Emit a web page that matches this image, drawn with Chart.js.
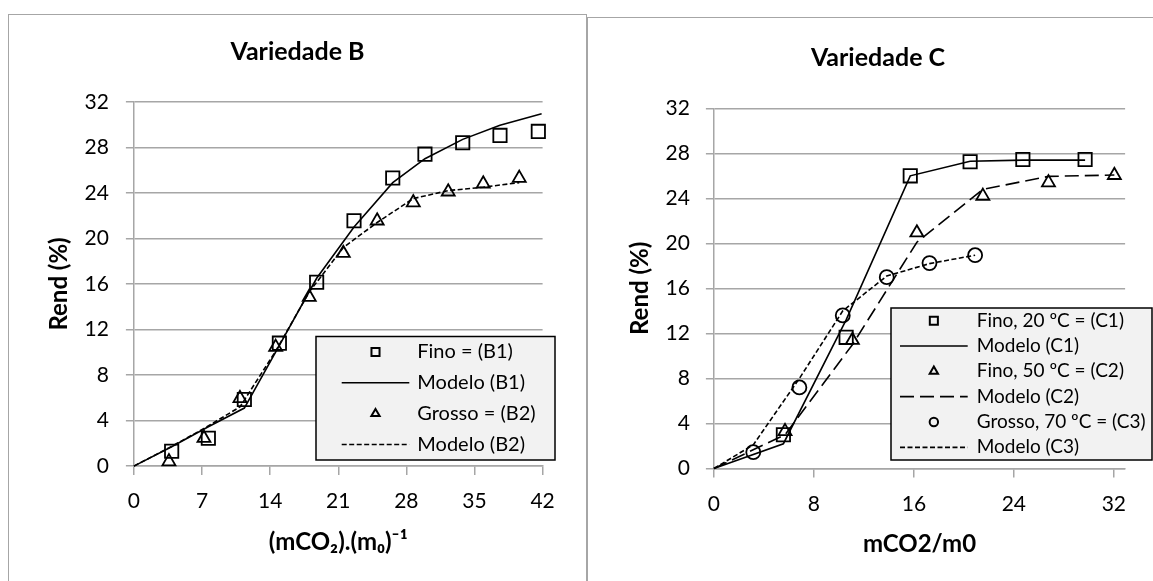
<!DOCTYPE html>
<html lang="pt">
<head>
<meta charset="utf-8">
<title>Rendimento - Variedades B e C</title>
<script src="https://cdn.jsdelivr.net/npm/chart.js@4.4.1/dist/chart.umd.min.js"></script>
<style>
  html, body { margin: 0; padding: 0; background: #fff; overflow: hidden; }
  body { width: 1153px; height: 581px; position: relative; }
  .moldura { position: absolute; box-sizing: border-box; border: 1px solid #a6a6a6; }
  canvas { position: absolute; }
</style>
</head>
<body>
<div class="moldura" style="left:8px;top:14px;width:579px;height:600px"></div>
<div class="moldura" style="left:587px;top:17px;width:600px;height:600px"></div>
<canvas id="grafB" width="579" height="567" style="left:8px;top:14px"></canvas>
<canvas id="grafC" width="582" height="563" style="left:587px;top:18px"></canvas>
<script>
// Variedade B
const ticksXB = [0, 7, 14, 21, 28, 35, 42];
const ticksYB = [0, 4, 8, 12, 16, 20, 24, 28, 32];
const finoB1X = [3.88, 7.65, 11.35, 14.95, 18.78, 22.62, 26.6, 29.91, 33.79, 37.62, 41.56];
const finoB1Y = [1.3, 2.45, 5.85, 10.8, 16.15, 21.55, 25.3, 27.4, 28.4, 29.05, 29.4];
const modeloB1X = [0, 3.88, 7.65, 11.35, 14.95, 18.78, 22.62, 26.6, 29.91, 33.79, 37.62, 41.9];
const modeloB1Y = [0, 1.7, 3.45, 5.1, 10.6, 16.5, 21.0, 24.9, 27.0, 28.7, 29.95, 30.95];
const grossoB2X = [3.6, 7.2, 10.9, 14.57, 18.02, 21.52, 25.0, 28.71, 32.3, 35.9, 39.6];
const grossoB2Y = [0.4, 2.45, 5.95, 10.45, 14.85, 18.7, 21.55, 23.15, 24.1, 24.8, 25.3];
const modeloB2X = [0, 3.6, 7.2, 10.9, 14.57, 18.02, 21.52, 25.0, 28.71, 32.3, 35.9, 39.6];
const modeloB2Y = [0, 1.6, 3.3, 5.2, 10.1, 15.3, 19.2, 21.4, 23.5, 24.2, 24.5, 24.9];

// Variedade C
const ticksXC = [0, 8, 16, 24, 32];
const ticksYC = [0, 4, 8, 12, 16, 20, 24, 28, 32];
const finoC1X = [5.56, 10.58, 15.71, 20.5, 24.72, 29.7];
const finoC1Y = [3.0, 11.65, 26.0, 27.25, 27.45, 27.45];
const modeloC1X = [0, 5.56, 10.58, 15.71, 20.5, 24.72, 29.7];
const modeloC1Y = [0, 2.2, 13.2, 26.0, 27.3, 27.4, 27.4];
const finoC2X = [5.69, 11.08, 16.24, 21.52, 26.77, 32.04];
const finoC2Y = [3.3, 11.4, 20.95, 24.2, 25.4, 26.05];
const modeloC2X = [0, 5.69, 11.08, 16.24, 21.52, 26.77, 32.04];
const modeloC2Y = [0, 3.0, 11.0, 20.1, 24.8, 25.95, 26.07];
const grossoC3X = [3.15, 6.84, 10.31, 13.83, 17.25, 20.9];
const grossoC3Y = [1.45, 7.2, 13.6, 17.0, 18.25, 18.95];
const modeloC3X = [0, 3.15, 6.84, 10.31, 13.83, 17.25, 20.9];
const modeloC3Y = [0, 2.1, 8.0, 14.0, 17.1, 18.2, 18.95];

const corGrade = '#a6a6a6';
const tracoCurto = [5, 2.5];
const tracoLongo = [14, 6];

Chart.defaults.font.family = 'Lato, "Open Sans", sans-serif';
Chart.defaults.color = '#000';

const pontos = (xs, ys) => xs.map((x, i) => ({ x, y: ys[i] }));

const serieMarcador = (label, xs, ys, estilo, raio) => ({
    label,
    data: pontos(xs, ys),
    showLine: false,
    pointStyle: estilo,
    pointRadius: raio,
    pointHoverRadius: raio,
    pointBorderColor: '#000',
    pointBackgroundColor: 'rgba(0,0,0,0)',
    pointBorderWidth: 1.8,
    clip: false
});

const serieModelo = (label, xs, ys, tracejado) => ({
    label,
    data: pontos(xs, ys),
    showLine: true,
    borderColor: '#000',
    borderWidth: 1.6,
    borderDash: tracejado,
    pointRadius: 0,
    pointHoverRadius: 0,
    tension: 0,
    fill: false,
    clip: false
});

// Legenda em caixa cinza dentro da área do gráfico
const legendaCaixa = {
    id: 'legendaCaixa',
    afterDraw(chart, args, opts) {
        const ctx = chart.ctx;
        const sets = chart.data.datasets;
        const alturaLinha = opts.h / sets.length;
        const xMarcador = (opts.linhaX0 + opts.linhaX1) / 2;

        ctx.save();
        ctx.fillStyle = '#f2f2f2';
        ctx.fillRect(opts.x, opts.y, opts.w, opts.h);
        ctx.strokeStyle = '#000';
        ctx.lineWidth = 1.5;
        ctx.strokeRect(opts.x, opts.y, opts.w, opts.h);

        ctx.font = `${opts.tamanhoFonte}px Lato, "Open Sans", sans-serif`;
        ctx.textBaseline = 'middle';
        ctx.textAlign = 'left';

        sets.forEach((ds, i) => {
            const cy = opts.y + alturaLinha * (i + 0.5);
            ctx.strokeStyle = '#000';
            if (ds.showLine) {
                ctx.lineWidth = 1.6;
                ctx.setLineDash(ds.borderDash || []);
                ctx.beginPath();
                ctx.moveTo(opts.linhaX0, cy);
                ctx.lineTo(opts.linhaX1, cy);
                ctx.stroke();
                ctx.setLineDash([]);
            } else {
                ctx.fillStyle = 'rgba(0,0,0,0)';
                ctx.lineWidth = 2;
                Chart.helpers.drawPoint(ctx, {
                    pointStyle: ds.pointStyle,
                    radius: opts.raios[ds.pointStyle],
                    rotation: 0,
                    borderWidth: 2
                }, xMarcador, cy);
            }
            ctx.fillStyle = '#000';
            ctx.fillText(ds.label, opts.textoX, cy);
        });
        ctx.restore();
    }
};

const fixarTicks = (valores) => (scale) => {
    scale.ticks = valores.map(v => ({ value: v }));
};

const criarGrafico = (canvasId, p) => {
    return new Chart(document.getElementById(canvasId), {
        type: 'scatter',
        data: { datasets: p.series },
        plugins: [legendaCaixa],
        options: {
            responsive: false,
            animation: false,
            events: [],
            layout: { padding: 0 },
            plugins: {
                legend: { display: false },
                tooltip: { enabled: false },
                title: {
                    display: true,
                    text: p.titulo,
                    font: { size: 25, weight: 'bold', lineHeight: 1.2 },
                    padding: { top: p.padTitulo[0], bottom: p.padTitulo[1] }
                },
                legendaCaixa: p.legenda
            },
            scales: {
                x: {
                    type: 'linear',
                    min: 0,
                    max: p.xMax,
                    afterBuildTicks: fixarTicks(p.ticksX),
                    afterFit: s => { s.height = p.alturaX; },
                    grid: { drawOnChartArea: false, drawTicks: true, tickLength: 9, color: corGrade, lineWidth: 1.5 },
                    border: { color: corGrade, width: 1.5 },
                    ticks: { padding: p.padTickX, font: { size: 21 }, maxRotation: 0, autoSkip: false },
                    title: {
                        display: true,
                        text: p.tituloX,
                        font: { size: 24, weight: 'bold', lineHeight: 1.2 },
                        padding: { top: 0, bottom: p.padTituloX }
                    }
                },
                y: {
                    type: 'linear',
                    min: 0,
                    max: 32,
                    afterBuildTicks: fixarTicks(p.ticksY),
                    afterFit: s => { s.width = p.larguraY; },
                    grid: { drawTicks: true, tickLength: 8, color: corGrade, lineWidth: 1.5 },
                    border: { color: corGrade, width: 1.5 },
                    ticks: { padding: p.padTickY, font: { size: 21 } },
                    title: {
                        display: true,
                        text: 'Rend (%)',
                        font: { size: 24, weight: 'bold', lineHeight: 1.2 },
                        padding: { top: p.padTituloY, bottom: 0 }
                    }
                },
                // margem à direita da área de plotagem
                ydir: {
                    position: 'right',
                    display: true,
                    grid: { display: false },
                    ticks: { display: false },
                    border: { display: false },
                    afterFit: s => { s.width = p.margemDir; }
                }
            }
        }
    });
};

criarGrafico('grafB', {
    titulo: 'Variedade B',
    tituloX: '(mCO₂).(m₀)⁻¹',
    xMax: 42,
    ticksX: ticksXB,
    ticksY: ticksYB,
    padTitulo: [23, 34.8],
    alturaX: 114.9,
    larguraY: 125.9,
    margemDir: 44.4,
    padTickX: 13.3,
    padTickY: 17,
    padTituloX: 24.6,
    padTituloY: 36.6,
    series: [
        serieMarcador('Fino = (B1)', finoB1X, finoB1Y, 'rect', 9.4),
        serieModelo('Modelo (B1)', modeloB1X, modeloB1Y, []),
        serieMarcador('Grosso = (B2)', grossoB2X, grossoB2Y, 'triangle', 7.5),
        serieModelo('Modelo (B2)', modeloB2X, modeloB2Y, tracoCurto)
    ],
    legenda: {
        x: 308, y: 322.5, w: 239, h: 123.5,
        linhaX0: 333.7, linhaX1: 401.3, textoX: 409.3,
        tamanhoFonte: 20,
        raios: { rect: 5.7, triangle: 4.8, circle: 4.2 }
    }
});

criarGrafico('grafC', {
    titulo: 'Variedade C',
    tituloX: 'mCO2/m0',
    xMax: 32.9,
    ticksX: ticksXC,
    ticksY: ticksYC,
    padTitulo: [24.8, 35.5],
    alturaX: 112.5,
    larguraY: 126.9,
    margemDir: 43.9,
    padTickX: 13.7,
    padTickY: 16,
    padTituloX: 21.9,
    padTituloY: 39.2,
    series: [
        serieMarcador('Fino, 20 ºC = (C1)', finoC1X, finoC1Y, 'rect', 9.4),
        serieModelo('Modelo (C1)', modeloC1X, modeloC1Y, []),
        serieMarcador('Fino, 50 ºC = (C2)', finoC2X, finoC2Y, 'triangle', 7.5),
        serieModelo('Modelo (C2)', modeloC2X, modeloC2Y, tracoLongo),
        serieMarcador('Grosso, 70 ºC = (C3)', grossoC3X, grossoC3Y, 'circle', 7),
        serieModelo('Modelo (C3)', modeloC3X, modeloC3Y, tracoCurto)
    ],
    legenda: {
        x: 304, y: 290, w: 261, h: 152,
        linhaX0: 313, linhaX1: 380.7, textoX: 389.7,
        tamanhoFonte: 19,
        raios: { rect: 5.7, triangle: 4.8, circle: 4.2 }
    }
});
</script>
</body>
</html>
